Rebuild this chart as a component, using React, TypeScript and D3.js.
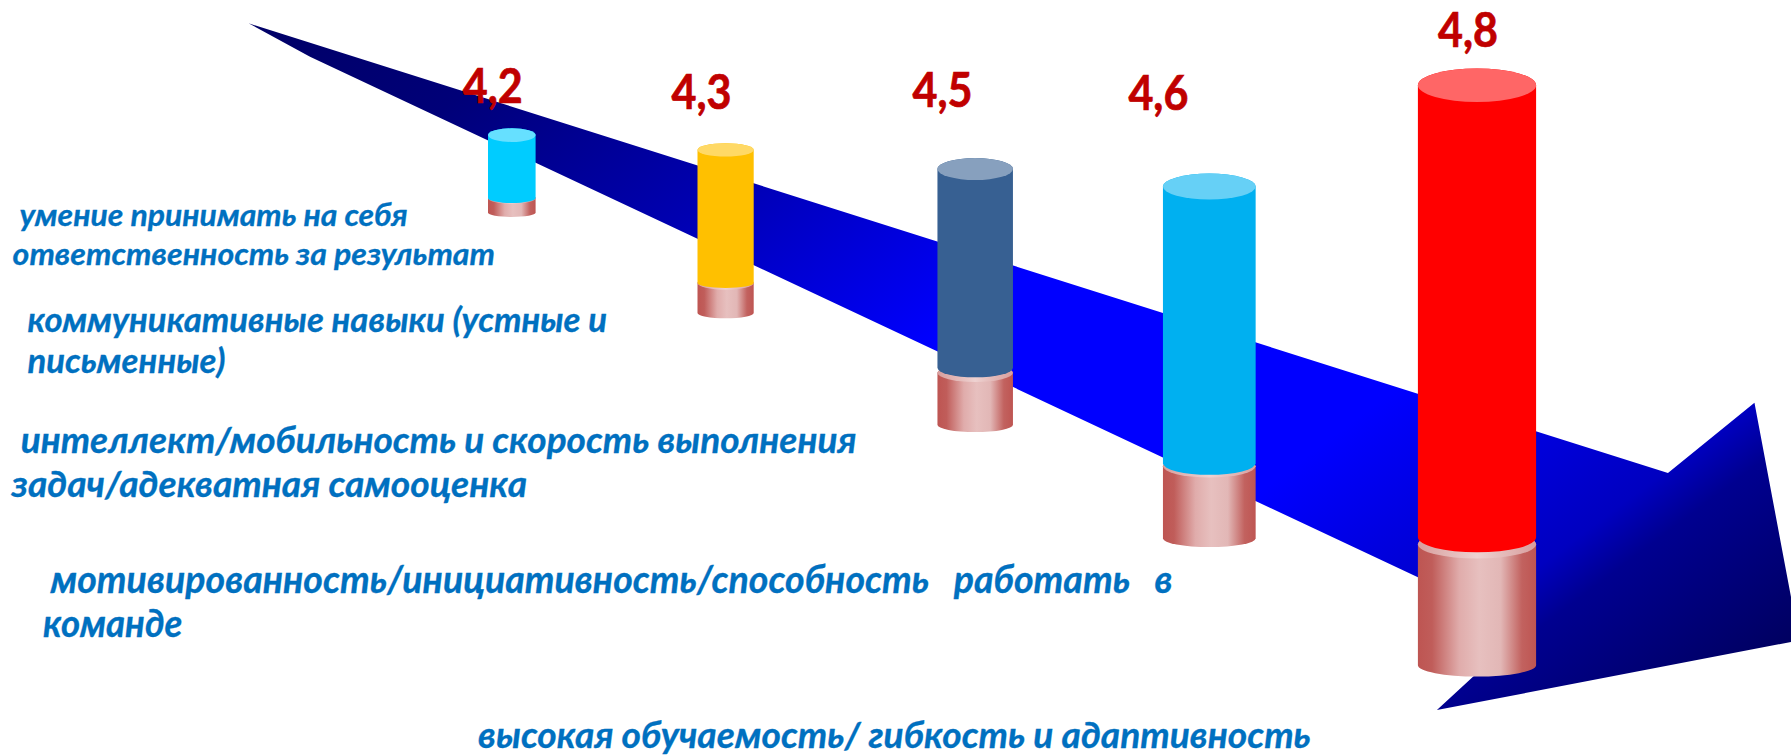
import React from "react";
import * as d3 from "d3";

const WIDTH = 1791;
const HEIGHT = 756;

// ---- data ----
const scores = ["4,2", "4,3", "4,5", "4,6", "4,8"];
const barColors = ["#00CCFF", "#FFC000", "#376092", "#00B0F0", "#FF0000"];
// stack, in percent of the picture height
const elevation = [71.9, 58.6, 43.8, 28.8, 12.0];
const lowerHeight = [1.9, 3.97, 6.88, 9.52, 16.0];
const upperGap = [0, 0, 0.66, 0.4, 0.93];
const upperHeight = [8.33, 17.6, 26.3, 36.6, 59.8];

const textLines = [
  "умение принимать на себя",
  "ответственность за результат",
  "коммуникативные навыки (устные и",
  "письменные)",
  "интеллект/мобильность и скорость выполнения",
  "задач/адекватная самооценка",
  "мотивированность/инициативность/способность   работать   в",
  "команде",
  "высокая обучаемость/ гибкость и адаптивность",
];

// arrow outline in percent of the picture (x from left, y from bottom)
const arrowOutline: [number, number][] = [
  [13.88, 96.92],
  [93.13, 37.43],
  [97.96, 46.73],
  [100, 21.03],
  [100, 15.08],
  [80.23, 6.08],
  [85.2, 16.93],
  [17.31, 92.5],
];

// ---- scales ----
const x = d3.scaleLinear().domain([0, 100]).range([0, WIDTH]);
const y = d3.scaleLinear().domain([0, 100]).range([HEIGHT, 0]);

const barCenter = d3.scaleOrdinal<string, number>().domain(scores).range([511.8, 725.6, 975.2, 1209.3, 1477]);
const barWidth = d3.scaleOrdinal<string, number>().domain(scores).range([47.6, 56.2, 75.5, 92.7, 118.2]);
const topRy = d3.scaleOrdinal<string, number>().domain(scores).range([6.8, 6.7, 11, 13, 16.7]);
const upperRy = d3.scaleOrdinal<string, number>().domain(scores).range([5, 5, 9.5, 11.5, 15]);
const scoreLeft = d3.scaleOrdinal<string, number>().domain(scores).range([462.7, 671.6, 912.5, 1128.4, 1438]);
const scoreBase = d3.scaleOrdinal<string, number>().domain(scores).range([103, 108.7, 107, 109.7, 46.5]);

const lineLeft = d3.scaleOrdinal<string, number>().domain(textLines).range([19.5, 12.6, 27.5, 27.5, 20.7, 11.5, 50.5, 43, 478]);
const lineRight = d3.scaleOrdinal<string, number>().domain(textLines).range([407.6, 495, 607, 225.6, 856.5, 527, 1172.7, 182.5, 1310.8]);
const lineBase = d3.scaleOrdinal<string, number>().domain(textLines).range([226, 265, 331.7, 373, 453, 497, 592.7, 637, 747.5]);
const lineSize = d3.scaleOrdinal<string, number>().domain(textLines).range([31, 31, 34, 34, 36, 36, 38, 38, 36]);

const FONT = "Lato, 'Open Sans', 'Noto Sans', sans-serif";

// a cylinder side: flat width w between yTop and yBottom, with elliptical ends
function cylinder(cx: number, w: number, yTop: number, yBottom: number, ryTop: number, ryBottom: number) {
  const l = cx - w / 2;
  const r = cx + w / 2;
  const a = w / 2;
  return `M${l},${yTop}L${l},${yBottom}A${a},${ryBottom} 0 0 0 ${r},${yBottom}L${r},${yTop}A${a},${ryTop} 0 0 0 ${l},${yTop}Z`;
}

const arrowPath = d3
  .line<[number, number]>()
  .x((d) => x(d[0]))
  .y((d) => y(d[1]))
  .curve(d3.curveLinearClosed)(arrowOutline) as string;

export default function App() {
  return (
    <svg
      width={WIDTH}
      height={HEIGHT}
      viewBox={`0 0 ${WIDTH} ${HEIGHT}`}
      style={{ position: "absolute", left: 0, top: 0, background: "#fff" }}
    >
      <defs>
        <linearGradient id="arrowFill" gradientUnits="userSpaceOnUse" x1={248} y1={23} x2={1102} y2={1161}>
          <stop offset="0" stopColor="#000066" />
          <stop offset="0.13" stopColor="#000078" />
          <stop offset="0.29" stopColor="#0000B0" />
          <stop offset="0.47" stopColor="#0000FF" />
          <stop offset="0.69" stopColor="#0000FF" />
          <stop offset="0.85" stopColor="#0000C0" />
          <stop offset="0.885" stopColor="#000090" />
          <stop offset="1" stopColor="#000060" />
        </linearGradient>
        <linearGradient id="lowerFill" x1="0" x2="1" y1="0" y2="0">
          <stop offset="0" stopColor="#BE5552" />
          <stop offset="0.12" stopColor="#C05D5A" />
          <stop offset="0.35" stopColor="#E0ACAB" />
          <stop offset="0.52" stopColor="#E7C0BF" />
          <stop offset="0.7" stopColor="#E2B7B6" />
          <stop offset="0.88" stopColor="#C2625F" />
          <stop offset="1" stopColor="#BE5552" />
        </linearGradient>
        <linearGradient id="rimFill" x1="0" x2="1" y1="0" y2="0">
          <stop offset="0" stopColor="#D89E9D" />
          <stop offset="0.5" stopColor="#EED2D1" />
          <stop offset="1" stopColor="#D89E9D" />
        </linearGradient>
      </defs>

      <path d={arrowPath} fill="url(#arrowFill)" />

      {scores.map((s, i) => {
        const cx = barCenter(s);
        const w = barWidth(s);
        const lowerBottom = y(elevation[i]);
        const lowerTop = y(elevation[i] + lowerHeight[i]);
        const upperBottom = y(elevation[i] + lowerHeight[i] + upperGap[i]);
        const upperTop = y(elevation[i] + lowerHeight[i] + upperGap[i] + upperHeight[i]);
        const color = barColors[i];
        return (
          <g key={s}>
            <path d={cylinder(cx, w, lowerTop, lowerBottom, 0.12 * w, 0.095 * w)} fill="url(#lowerFill)" />
            <ellipse cx={cx} cy={lowerTop} rx={w / 2} ry={0.12 * w} fill="url(#rimFill)" />
            <path d={cylinder(cx, w, upperTop, upperBottom, topRy(s), upperRy(s))} fill={color} />
            <ellipse cx={cx} cy={upperTop} rx={w / 2} ry={topRy(s)} fill={d3.interpolateRgb(color, "#fff")(0.4)} />
          </g>
        );
      })}

      {scores.map((s) => (
        <text
          key={s}
          x={scoreLeft(s)}
          y={scoreBase(s)}
          fontFamily={FONT}
          fontWeight={700}
          fontSize={47}
          fill="#C00000"
          stroke="#C00000"
          strokeWidth={0.7}
          textLength={60}
          lengthAdjust="spacingAndGlyphs"
        >
          {s}
        </text>
      ))}

      {textLines.map((t) => (
        <text
          key={t}
          x={lineLeft(t)}
          y={lineBase(t)}
          fontFamily={FONT}
          fontWeight={700}
          fontStyle="italic"
          fontSize={lineSize(t)}
          fill="#0070C0"
          stroke="#0070C0"
          strokeWidth={0.3}
          xmlSpace="preserve"
          textLength={lineRight(t) - lineLeft(t)}
          lengthAdjust="spacingAndGlyphs"
        >
          {t}
        </text>
      ))}
    </svg>
  );
}
